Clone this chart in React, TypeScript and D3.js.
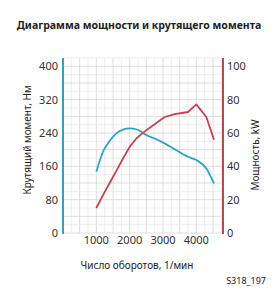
import React, { useEffect, useRef } from 'react'
import * as d3 from 'd3'

// values
const rpm = [1000, 1200, 1400, 1600, 1800, 2000, 2200, 2350, 2500, 2800, 3050, 3350, 3750, 4000, 4300, 4530]
const torqueNm = [147, 195, 221, 239, 248, 251, 249, 243, 235, 225, 215, 201, 183, 175, 155, 119]
const powerKw = [15, 22.7, 30, 37.3, 44.7, 51.7, 56.7, 59.3, 61.7, 66, 69.6, 71.3, 72.6, 77.2, 69.6, 56]

const rpmTicks = [1000, 2000, 3000, 4000]
const torqueTicks = [0, 80, 160, 240, 320, 400]
const powerTicks = [0, 20, 40, 60, 80, 100]

const BLUE = '#2ba3c8'
const RED = '#c8414f'
const FONT = '"Noto Sans", "DejaVu Sans", sans-serif'

const App: React.FC = () => {
  const svgRef = useRef<SVGSVGElement>(null)

  useEffect(() => {
    if (!svgRef.current) return
    const svg = d3.select(svgRef.current)
    svg.selectAll('*').remove()

    const x = d3.scaleLinear().domain([0, 4800]).range([63, 223])
    const yT = d3.scaleLinear().domain([0, 420]).range([233, 58])
    const yP = d3.scaleLinear().domain([0, 105]).range([233, 58])

    // grid
    const grid = svg.append('g')
    d3.range(250, 4800, 250).forEach(v => {
      grid.append('line')
        .attr('x1', x(v)).attr('x2', x(v))
        .attr('y1', yT(0)).attr('y2', yT(420))
        .attr('stroke', v % 500 === 0 ? '#d6d6d6' : '#ebebeb')
        .attr('stroke-width', 0.8)
    })
    d3.range(0, 421, 20).forEach(v => {
      grid.append('line')
        .attr('x1', x(0)).attr('x2', x(4800))
        .attr('y1', yT(v)).attr('y2', yT(v))
        .attr('stroke', v % 40 === 0 ? '#d6d6d6' : '#ebebeb')
        .attr('stroke-width', 0.8)
    })

    // axis lines
    svg.append('line')
      .attr('x1', x(0)).attr('x2', x(0))
      .attr('y1', yT(0) + 1).attr('y2', yT(420))
      .attr('stroke', BLUE).attr('stroke-width', 2)
    svg.append('line')
      .attr('x1', x(4800)).attr('x2', x(4800))
      .attr('y1', yT(0) + 1).attr('y2', yT(420))
      .attr('stroke', RED).attr('stroke-width', 2)

    // tick labels
    svg.append('g').selectAll('text')
      .data(torqueTicks).enter().append('text')
      .attr('x', x(0) - 5).attr('y', d => yT(d))
      .attr('dy', '0.35em').attr('text-anchor', 'end')
      .style('font', `11px ${FONT}`).attr('fill', '#333')
      .text(d => d)
    svg.append('g').selectAll('text')
      .data(powerTicks).enter().append('text')
      .attr('x', x(4800) + 4).attr('y', d => yP(d))
      .attr('dy', '0.35em').attr('text-anchor', 'start')
      .style('font', `11px ${FONT}`).attr('fill', '#333')
      .text(d => d)
    svg.append('g').selectAll('text')
      .data(rpmTicks).enter().append('text')
      .attr('x', d => x(d)).attr('y', 244)
      .attr('text-anchor', 'middle')
      .style('font', `11px ${FONT}`).attr('fill', '#333')
      .text(d => d)

    // curves
    const torqueLine = d3.line<number>()
      .x((_, i) => x(rpm[i]))
      .y(d => yT(d))
      .curve(d3.curveMonotoneX)
    const powerLine = d3.line<number>()
      .x((_, i) => x(rpm[i]))
      .y(d => yP(d))
      .curve(d3.curveLinear)

    svg.append('path').datum(torqueNm)
      .attr('d', torqueLine)
      .attr('fill', 'none').attr('stroke', BLUE).attr('stroke-width', 1.8)
    svg.append('path').datum(powerKw)
      .attr('d', powerLine)
      .attr('fill', 'none').attr('stroke', RED).attr('stroke-width', 1.8)
      .attr('stroke-linejoin', 'round')

    // titles
    svg.append('text')
      .attr('x', 139).attr('y', 29).attr('text-anchor', 'middle')
      .style('font', `bold 10.5px ${FONT}`).attr('fill', '#222')
      .text('Диаграмма мощности и крутящего момента')
    svg.append('text')
      .attr('transform', 'translate(31,140) rotate(-90)')
      .attr('text-anchor', 'middle')
      .style('font', `10px ${FONT}`).attr('fill', '#222')
      .text('Крутящий момент, Нм')
    svg.append('text')
      .attr('transform', 'translate(259,155) rotate(-90)')
      .attr('text-anchor', 'middle')
      .style('font', `10px ${FONT}`).attr('fill', '#222')
      .text('Мощность, kW')
    svg.append('text')
      .attr('x', 137).attr('y', 269).attr('text-anchor', 'middle')
      .style('font', `10px ${FONT}`).attr('fill', '#222')
      .text('Число оборотов, 1/мин')
    svg.append('text')
      .attr('x', 266).attr('y', 284).attr('text-anchor', 'end')
      .style('font', `9px ${FONT}`).attr('fill', '#222')
      .text('S318_197')
  }, [])

  return (
    <svg
      ref={svgRef}
      width={278}
      height={300}
      style={{ position: 'absolute', left: 0, top: 0, background: '#fff' }}
    />
  )
}

export default App
